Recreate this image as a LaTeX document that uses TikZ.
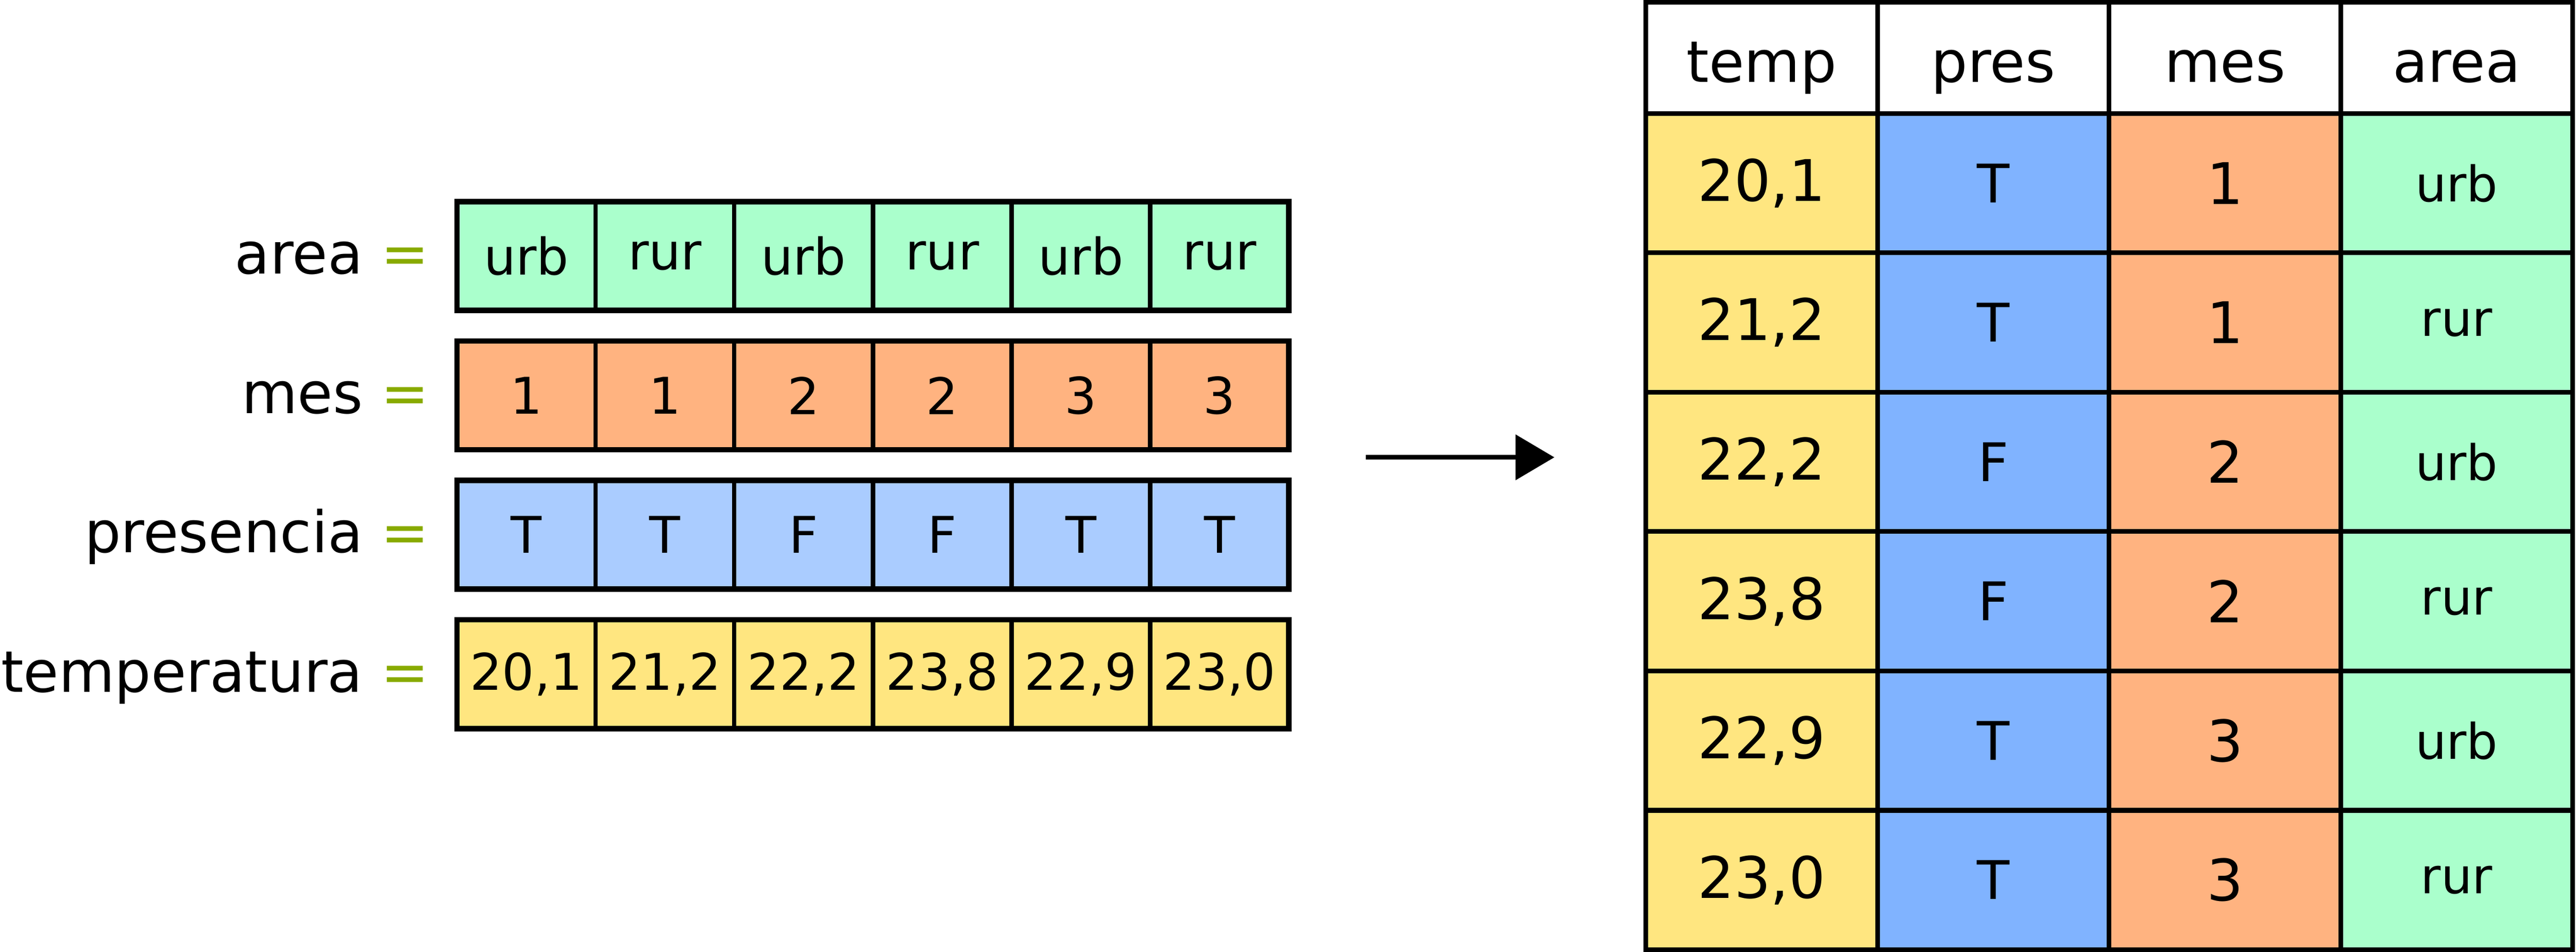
\documentclass[tikz,border=0pt]{standalone}
\usepackage{fontspec}
\setmainfont{DejaVu Sans}
\usetikzlibrary{arrows.meta}
\definecolor{verde}{HTML}{AAFFCC}
\definecolor{naranja}{HTML}{FFB380}
\definecolor{celeste}{HTML}{AACCFF}
\definecolor{azul}{HTML}{80B3FF}
\definecolor{amarillo}{HTML}{FFE680}
\definecolor{oliva}{HTML}{88AA00}
\begin{document}
\begin{tikzpicture}
				\def\cw{3.568}
				\def\ch{2.80}
				\def\dy{3.587}
				\def\tw{5.9625}
				\tikzset{c/.style={draw,line width=1.1mm,outer sep=0,inner sep=0,minimum width=\cw cm,minimum height=\ch cm,font=\fontsize{37}{44}\selectfont},
					lab/.style={anchor=base east,inner sep=0,font=\fontsize{42}{50}\selectfont},
					t/.style={draw,line width=1.2mm,outer sep=0,inner sep=0,minimum width=\tw cm,minimum height=\dy cm,font=\fontsize{42}{50}\selectfont},
					marco/.style={line width=1.4mm}}
				\useasboundingbox(0,0)rectangle(66.29,24.5);
				%%Vectores
				\foreach \v [count=\j] in {urb,rur,urb,rur,urb,rur}
				\node[c,fill=verde](area\j)at({11.76+(\j-0.5)*\cw},17.91){\v};
				\foreach \v [count=\j] in {1,1,2,2,3,3}
				\node[c,fill=naranja](mes\j)at({11.76+(\j-0.5)*\cw},{17.91-\dy}){\v};
				\foreach \v [count=\j] in {T,T,F,F,T,T}
				\node[c,fill=celeste](pres\j)at({11.76+(\j-0.5)*\cw},{17.91-2*\dy}){\v};
				\foreach \v [count=\j] in {20{,}1,21{,}2,22{,}2,23{,}8,22{,}9,23{,}0}
				\node[c,fill=amarillo](temp\j)at({11.76+(\j-0.5)*\cw},{17.91-3*\dy}){\v};
				\foreach \x/\y in {area/area,mes/mes,pres/presencia,temp/temperatura}{
					\draw[marco](\x1.north west)rectangle(\x6.south east);
					\node[lab](l\x)at([xshift=-7.1mm,yshift=-4.6mm]\x1.west){\y\ \textcolor{oliva}{=}};}
				\coordinate(ini)at(35.15,12.73);
				\coordinate(fin)at(40.00,12.73);
				\draw[line width=1.2mm,-{Triangle[length=1cm,width=1.15cm]}](ini)--(fin);
				%%Tabla
				\foreach \h [count=\j] in {temp,pres,mes,area}
				\node[t,fill=white,minimum height=2.86cm](h\h)at({42.35+(\j-0.5)*\tw},23.01){\raisebox{-6.2mm}[0pt][0pt]{\h}};
				\foreach \a/\b/\c/\d [count=\i] in {20{,}1/T/1/urb,21{,}2/T/1/rur,22{,}2/F/2/urb,23{,}8/F/2/rur,22{,}9/T/3/urb,23{,}0/T/3/rur}
				\path({42.35+0.5*\tw},{21.58-(\i-0.5)*\dy})node[t,fill=amarillo](ta\i){\a}
				++(\tw,0)node[t,fill=azul,font=\fontsize{39}{46}\selectfont](tb\i){\b}
				++(\tw,0)node[t,fill=naranja](tc\i){\c}
				++(\tw,0)node[t,fill=verde,font=\fontsize{36}{43}\selectfont](td\i){\d};
			\end{tikzpicture}
\end{document}
